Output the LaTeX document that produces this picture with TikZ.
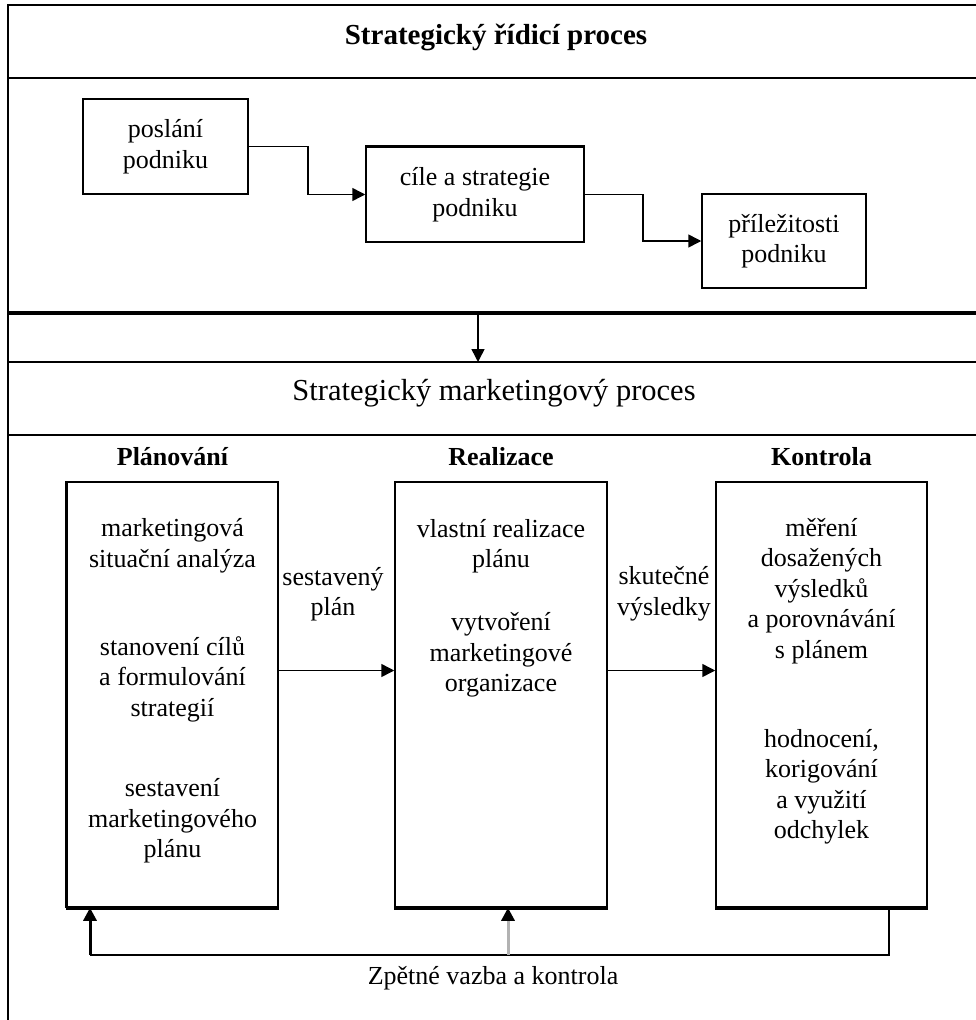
\documentclass[tikz,border=0pt]{standalone}
\usepackage{fontspec}
\setmainfont{Liberation Serif}
\usetikzlibrary{arrows.meta, positioning}

\begin{document}
\begin{tikzpicture}[x=1pt, y=-1pt,
  every node/.style={font=\fontsize{26}{30.5}\selectfont, align=center, inner sep=0pt},
  box/.style={draw, line width=1.5pt, rectangle},
  pole/.style={draw, line width=1.5pt},
  spoj/.style={line width=1.5pt, -{Triangle[length=13pt, width=13pt]}},
  hlava/.style={font=\fontsize{26}{30}\selectfont\bfseries}]
\useasboundingbox (0,0) rectangle (976,1020);

% Ramecek
\draw[pole] (976,5) -- (8,5) -- (8,1020);
\draw[pole] (8,78) -- (976,78);
\draw[line width=4pt] (8,313) -- (976,313);
\draw[pole] (8,362) -- (976,362);
\draw[pole] (8,435) -- (976,435);

% Strategicky ridici proces
\node[font=\fontsize{29}{34}\selectfont\bfseries] (ridici) at (496,37) {Strategický řídicí proces};

% Poslani, cile, prilezitosti
\node[box, minimum width=165pt, minimum height=95pt] (poslani) at (165.5,146.5) {poslání\\podniku};
\node[box, minimum width=218pt, minimum height=95pt] (cile) at (475,194.5) {cíle a strategie\\podniku};
\draw[line width=3.5pt] (cile.north west) -- (cile.north east);
\node[box, minimum width=164pt, minimum height=94pt] (prilezitosti) at (784,241) {příležitosti\\podniku};

% Sipky nahore
\draw[spoj] (poslani.east) -- ++(59,0) |- (cile.west);
\draw[spoj] (cile.east) -- ++(58,0) |- (prilezitosti.west);

% Prechod mezi procesy
\coordinate (z1) at (478,315);
\coordinate (z2) at (478,362);
\draw[spoj] (z1) -- (z2);

% Strategicky marketingovy proces
\node[font=\fontsize{30.5}{35}\selectfont] (marketing) at (494,393) {Strategický marketingový proces};

% Planovani
\node[box, minimum width=211pt, minimum height=425pt] (planovani) at (172.5,694.5) {};
\draw[line width=3.5pt] (planovani.north west) -- (planovani.south west);
\node[hlava, above=15pt of planovani] (hl-plan) {Plánování};
\node (p1) at (172.5,546) {marketingová\\situační analýza};
\node (p2) at (172.5,679) {stanovení cílů\\a formulování\\strategií};
\node (p3) at (172.5,821) {sestavení\\marketingového\\plánu};

% Realizace
\node[box, minimum width=212pt, minimum height=425pt] (realizace) at (501,694.5) {};
\node[hlava, above=15pt of realizace] (hl-real) {Realizace};
\node (r1) at (501,546) {vlastní realizace\\plánu};
\node (r2) at (501,655) {vytvoření\\marketingové\\organizace};

% Kontrola
\node[box, minimum width=211pt, minimum height=425pt] (kontrola) at (821.5,694.5) {};
\node[hlava, above=15pt of kontrola] (hl-kontr) {Kontrola};
\node (k1) at (821.5,591) {měření\\dosažených\\výsledků\\a porovnávání\\s plánem};
\node (k2) at (821.5,787) {hodnocení,\\korigování\\a využití\\odchylek};

\foreach \b in {planovani, realizace, kontrola}
  \draw[line width=4pt] (\b.south west) -- (\b.south east);

% Sipky mezi fazemi
\draw[spoj] ([yshift=24pt]planovani.east) -- ([yshift=24pt]realizace.west);
\node (sestaveny) at (333,594) {sestavený\\plán};
\draw[spoj] ([yshift=24pt]realizace.east) -- ([yshift=24pt]kontrola.west);
\node (skutecne) at (664,594) {skutečné\\výsledky};

% Zpetna vazba
\coordinate (zpR) at (889,955);
\coordinate (zpL) at (90,955);
\coordinate (zpM) at (508,955);
\draw[line width=1.5pt] (kontrola.south -| zpR) -- (zpR) -- (zpL);
\draw[spoj, line width=3pt] (zpL) -- (zpL |- planovani.south);
\draw[line width=3pt, gray!60, -{Triangle[length=13pt, width=13pt, color=black]}] (zpM) -- (zpM |- realizace.south);
\node (zpetna) at (493,978) {Zpětné vazba a kontrola};
\end{tikzpicture}
\end{document}
